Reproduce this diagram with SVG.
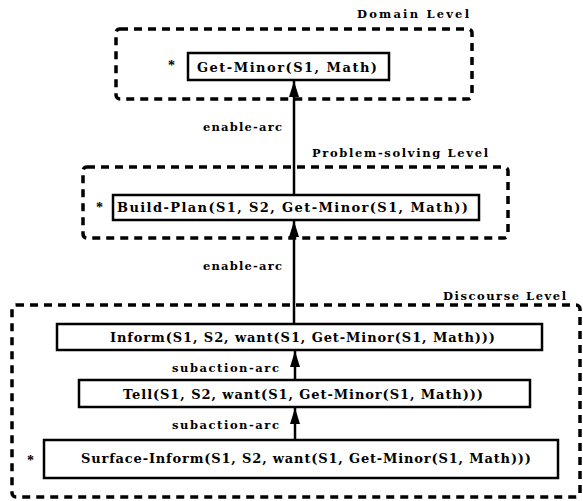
<svg xmlns="http://www.w3.org/2000/svg" width="583" height="501" viewBox="0 0 583 501">
<style>
.lvl{fill:none;stroke:#000;stroke-width:3.5;stroke-dasharray:8 6}
.box{fill:#fff;stroke:#000;stroke-width:2.5}
.t{font-family:"DejaVu Serif","Liberation Serif",serif;font-weight:bold;font-size:13px;fill:#000}
.lbl{font-family:"DejaVu Serif","Liberation Serif",serif;font-weight:bold;font-size:11.5px;fill:#000}
.star{font-family:"Liberation Serif","Times New Roman",serif;font-weight:bold;font-size:14px;fill:#000}
.arc{stroke:#000;stroke-width:2.5;fill:none;marker-end:url(#ah)}
</style>
<defs>
<marker id="ah" markerUnits="userSpaceOnUse" markerWidth="16" markerHeight="10" refX="16" refY="5" orient="auto">
<path d="M0,0 L16,5 L0,10 z" fill="#000"/>
</marker>
</defs>
<rect width="583" height="501" fill="#fff"/>

<g id="levels">
<rect class="lvl" x="116" y="29" width="356" height="70" rx="4"/>
<text class="lbl" x="357" y="18" textLength="112" lengthAdjust="spacing">Domain Level</text>
<rect class="lvl" x="83" y="167" width="425" height="71" rx="4"/>
<text class="lbl" x="312" y="157" textLength="176" lengthAdjust="spacing">Problem-solving Level</text>
<rect class="lvl" x="12" y="305" width="568" height="192" rx="4"/>
<text class="lbl" x="443" y="300" textLength="123" lengthAdjust="spacing">Discourse Level</text>
</g>

<g id="connectors">
<line class="arc" x1="294" y1="195" x2="294" y2="81"/>
<line class="arc" x1="294" y1="324" x2="294" y2="221"/>
<line class="arc" x1="295" y1="380" x2="295" y2="351"/>
<line class="arc" x1="295" y1="440" x2="295" y2="408"/>
<text class="lbl" x="203" y="131" textLength="79" lengthAdjust="spacing">enable-arc</text>
<text class="lbl" x="203" y="270" textLength="79" lengthAdjust="spacing">enable-arc</text>
<text class="lbl" x="172" y="372" textLength="107" lengthAdjust="spacing">subaction-arc</text>
<text class="lbl" x="172" y="429" textLength="107" lengthAdjust="spacing">subaction-arc</text>
</g>

<g id="get-minor">
<rect class="box" x="188" y="53" width="201" height="27"/>
<text class="t" x="197" y="72" textLength="180" lengthAdjust="spacing">Get-Minor(S1, Math)</text>
<text class="star" x="168" y="70">*</text>
</g>

<g id="build-plan">
<rect class="box" x="113" y="195" width="366" height="25"/>
<text class="t" x="117" y="212" textLength="351" lengthAdjust="spacing">Build-Plan(S1, S2, Get-Minor(S1, Math))</text>
<text class="star" x="96" y="212">*</text>
</g>

<g id="inform">
<rect class="box" x="57" y="324" width="485" height="26"/>
<text class="t" x="110" y="342" textLength="385" lengthAdjust="spacing">Inform(S1, S2, want(S1, Get-Minor(S1, Math)))</text>
</g>

<g id="tell">
<rect class="box" x="79" y="380" width="451" height="27"/>
<text class="t" x="123" y="399" textLength="360" lengthAdjust="spacing">Tell(S1, S2, want(S1, Get-Minor(S1, Math)))</text>
</g>

<g id="surface-inform">
<rect class="box" x="44" y="440" width="514" height="38"/>
<text class="t" x="81" y="463" textLength="450" lengthAdjust="spacing">Surface-Inform(S1, S2, want(S1, Get-Minor(S1, Math)))</text>
<text class="star" x="27" y="465">*</text>
</g>
</svg>
